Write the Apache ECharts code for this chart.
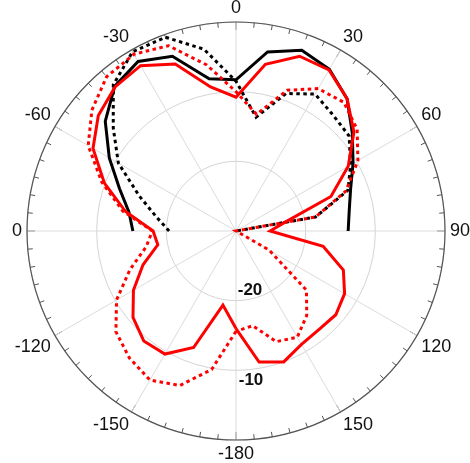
<!DOCTYPE html>
<html><head><meta charset="utf-8">
<script src="https://cdn.jsdelivr.net/npm/echarts@6/dist/echarts.min.js"></script>
<style>html,body{margin:0;padding:0;background:#fff}#c{width:470px;height:463px}</style>
</head><body><div id="c"></div>
<script>
// Angles (degrees, clockwise from top)
const halfAngles = [-90,-80,-70,-60,-50,-40,-30,-20,-10,0,10,20,30,40,50,60,70,80,90];
const fullAngles = [-180,-170,-160,-150,-140,-130,-120,-110,-100,-90,-80,-70,-60,-50,-40,-30,-20,-10,0,10,20,30,40,50,60,70,80,90,100,110,120,130,140,150,160,170,180];

// Series values (dB)
const blackSolid  = [-15.2,-14.4,-12.2,-9.0,-5.5,-2.9,-1.9,-3.3,-7.8,-8.3,-3.9,-2.4,-3.2,-5.2,-8.2,-10.6,-12.5,-13.5,-13.9];
const blackDotted = [-20.4,-18.4,-15.2,-10.5,-7.0,-2.6,-0.3,-0.4,-3.5,-8.5,-13.4,-9.0,-7.3,-8.3,-8.8,-11.0,-12.9,-18.4,-30];
const redSolid    = [-16.0,-19.2,-12.2,-9.6,-9.4,-10.7,-13.0,-15.8,-18.6,-18.1,-13.9,-9.9,-6.3,-4.2,-3.0,-2.6,-4.5,-9.0,-10.8,-5.7,-3.3,-3.3,-5.2,-7.9,-11.4,-15.5,-22.9,-25.1,-17.3,-13.6,-12.0,-11.3,-11.5,-11.2,-10.0,-10.9,-16.0];
const redDotted   = [-15.6,-9.8,-6.4,-5.3,-6.2,-7.5,-10.2,-13.8,-16.9,-18.0,-13.5,-9.5,-5.5,-3.0,-1.1,-0.7,-1.7,-5.8,-10.0,-13.0,-8.5,-6.4,-5.9,-7.3,-9.8,-13.2,-18.4,-30,-30,-30,-24.5,-16.8,-14.2,-12.4,-13.1,-16.2,-15.6];

// Tick labels
const angleTickValues = [0,30,60,90,120,150,180,210,240,270,300,330];
const angleTickLabels = ['0','30','60','90','120','150','-180','-150','-120','0','-60','-30'];
const radiusTickValues = [-20,-10];
const radiusTickLabels = ['-20','-10'];

function toPolar(vals, angs){ return vals.map((v,i)=>[v, (angs[i]+360)%360]); }

const chart = echarts.init(document.getElementById('c'), null, {renderer:'canvas'});
const FONT = "'Liberation Sans', Arial, sans-serif";
const lineSeries = (name, vals, angs, color, dotted) => ({
  name, type:'line', coordinateSystem:'polar', data: toPolar(vals, angs),
  symbol:'none', smooth:false, animation:false,
  lineStyle:{color, width:3, type: dotted ? [3.5,3.5] : 'solid', cap:'butt', join:'miter'}
});

chart.setOption({
  animation:false,
  backgroundColor:'#fff',
  polar:{center:[236,231], radius:209},
  angleAxis:{
    type:'value', min:0, max:360, interval:30, startAngle:90, clockwise:true,
    axisLine:{show:true, lineStyle:{color:'#555', width:1.2}},
    axisTick:{show:true, inside:true, length:8, lineStyle:{color:'#555', width:1}},
    minorTick:{show:true, splitNumber:6, length:5, lineStyle:{color:'#555', width:1}},
    splitLine:{show:true, lineStyle:{color:'#dcdcdc', width:1}},
    axisLabel:{show:true, margin:5, fontFamily:FONT, fontSize:18, color:'#111',
      formatter:(v)=>{ const i = angleTickValues.indexOf(v); return i<0 ? '' : angleTickLabels[i]; }}
  },
  radiusAxis:{
    type:'value', min:-30, max:0, interval:10,
    axisLine:{show:false}, axisTick:{show:false}, axisLabel:{show:false},
    splitLine:{show:true, lineStyle:{color:'#d4d4d4', width:1}}
  },
  series:[
    lineSeries('black solid', blackSolid, halfAngles, '#000', false),
    lineSeries('black dotted', blackDotted, halfAngles, '#000', true),
    lineSeries('red solid', redSolid, fullAngles, '#ff0000', false),
    lineSeries('red dotted', redDotted, fullAngles, '#ff0000', true)
  ]
});

// Radial value labels placed relative to their rings
const offsets = [[14,-10],[15,10]];
const graphics = radiusTickValues.map((r,i)=>{
  const p = chart.convertToPixel({polarIndex:0}, [r, 180]);
  return {type:'text', x:p[0]+offsets[i][0], y:p[1]+offsets[i][1],
    style:{text:radiusTickLabels[i], font:"bold 17px "+FONT, fill:'#111', align:'center', verticalAlign:'middle'}};
});
chart.setOption({graphic:graphics});
</script>
</body></html>
